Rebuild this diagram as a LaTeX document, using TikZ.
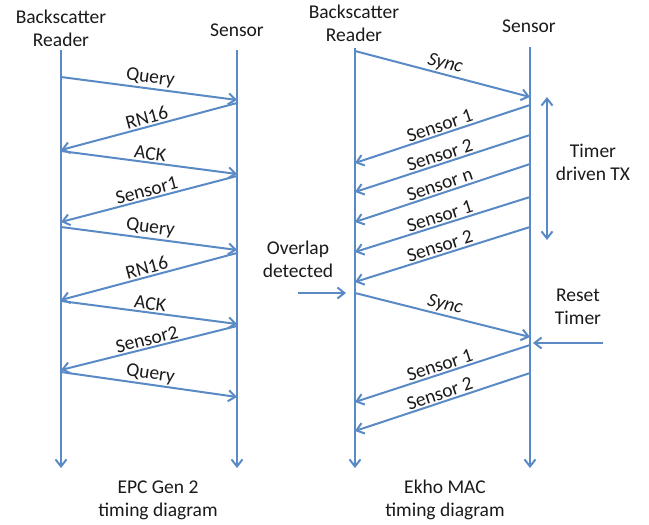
\documentclass[tikz,border=0pt]{standalone}
\usepackage{fontspec}
\setmainfont{Carlito}
\usetikzlibrary{arrows.meta}
\definecolor{lnblue}{HTML}{5A8AC6}
\definecolor{txt}{HTML}{1A1A1A}
\tikzset{
  msg/.style={draw=lnblue, line width=2pt, -{Straight Barb[length=7pt,width=11pt,line width=2pt]}},
  twoway/.style={draw=lnblue, line width=2pt, {Straight Barb[length=7pt,width=11pt,line width=2pt]}-{Straight Barb[length=7pt,width=11pt,line width=2pt]}},
  lbl/.style={text=txt, font=\fontsize{19.5}{23}\selectfont, midway, sloped, above=0pt, inner sep=1.5pt},
  itl/.style={font=\fontsize{19.5}{23}\selectfont\itshape},
  txtnode/.style={text=txt, font=\fontsize{19.5}{23}\selectfont, align=center, inner sep=0pt}
}
\begin{document}
\begin{tikzpicture}[x=1pt,y=-1pt]
\useasboundingbox (0,0) rectangle (649,525);
% headers
\node[txtnode] (hlr) at (61,28) {Backscatter\\Reader};
\node[txtnode] (hls) at (237,30) {Sensor};
\node[txtnode] (hrr) at (354,23) {Backscatter\\Reader};
\node[txtnode] (hrs) at (529,26) {Sensor};
\node[txtnode] (fl) at (158,500) {EPC Gen 2\\timing diagram};
\node[txtnode] (fr) at (445,500) {Ekho MAC\\timing diagram};
\node[txtnode] (timer) at (593,162) {Timer\\driven TX};
\node[txtnode] (ovl) at (298,259) {Overlap\\detected};
\node[txtnode] (rst) at (578,307) {Reset\\Timer};
% lifelines
\coordinate (LRt) at (61,50);  \coordinate (LRb) at (61,468);
\coordinate (LSt) at (237,50); \coordinate (LSb) at (237,468);
\coordinate (RRt) at (355,48); \coordinate (RRb) at (355,468);
\coordinate (RSt) at (530,47); \coordinate (RSb) at (530,468);
\draw[msg] (LRt) -- (LRb);
\draw[msg] (LSt) -- (LSb);
\draw[msg] (RRt) -- (RRb);
\draw[msg] (RSt) -- (RSb);
% left messages
\coordinate (a1) at (61,77);   \coordinate (b1) at (237,100);
\coordinate (a2) at (237,103); \coordinate (b2) at (61,150);
\coordinate (a3) at (61,151);  \coordinate (b3) at (237,174);
\coordinate (a4) at (237,176); \coordinate (b4) at (61,222);
\coordinate (a5) at (61,227);  \coordinate (b5) at (237,250);
\coordinate (a6) at (237,253); \coordinate (b6) at (61,300);
\coordinate (a7) at (61,301);  \coordinate (b7) at (237,324);
\coordinate (a8) at (237,326); \coordinate (b8) at (61,370);
\coordinate (a9) at (61,372);  \coordinate (b9) at (237,397);
\draw[msg] (a1) -- node[lbl] {Query} (b1);
\draw[msg] (a2) -- node[lbl] {RN16} (b2);
\draw[msg] (a3) -- node[lbl] {ACK} (b3);
\draw[msg] (a4) -- node[lbl] {Sensor1} (b4);
\draw[msg] (a5) -- node[lbl] {Query} (b5);
\draw[msg] (a6) -- node[lbl] {RN16} (b6);
\draw[msg] (a7) -- node[lbl] {ACK} (b7);
\draw[msg] (a8) -- node[lbl] {Sensor2} (b8);
\draw[msg] (a9) -- node[lbl] {Query} (b9);
% right messages
\coordinate (c1) at (355,51);  \coordinate (d1) at (530,97);
\coordinate (c2) at (530,105); \coordinate (d2) at (355,163);
\coordinate (c3) at (530,135); \coordinate (d3) at (355,192);
\coordinate (c4) at (530,164); \coordinate (d4) at (355,222);
\coordinate (c5) at (530,197); \coordinate (d5) at (355,252);
\coordinate (c6) at (530,227); \coordinate (d6) at (355,282);
\coordinate (c7) at (355,293); \coordinate (d7) at (530,337);
\coordinate (c8) at (530,345); \coordinate (d8) at (355,402);
\coordinate (c9) at (530,373); \coordinate (d9) at (355,431);
\draw[msg] (c1) -- node[lbl, itl] {Sync} (d1);
\draw[msg] (c2) -- node[lbl] {Sensor 1} (d2);
\draw[msg] (c3) -- node[lbl] {Sensor 2} (d3);
\draw[msg] (c4) -- node[lbl] {Sensor n} (d4);
\draw[msg] (c5) -- node[lbl] {Sensor 1} (d5);
\draw[msg] (c6) -- node[lbl] {Sensor 2} (d6);
\draw[msg] (c7) -- node[lbl, itl] {Sync} (d7);
\draw[msg] (c8) -- node[lbl] {Sensor 1} (d8);
\draw[msg] (c9) -- node[lbl] {Sensor 2} (d9);
% side arrows
\coordinate (t1) at (547,97);  \coordinate (t2) at (547,240);
\draw[twoway] (t1) -- (t2);
\coordinate (o1) at (298,293); \coordinate (o2) at (346,293);
\draw[msg] (o1) -- (o2);
\coordinate (r1) at (603,343); \coordinate (r2) at (533,343);
\draw[msg] (r1) -- (r2);
\end{tikzpicture}
\end{document}
